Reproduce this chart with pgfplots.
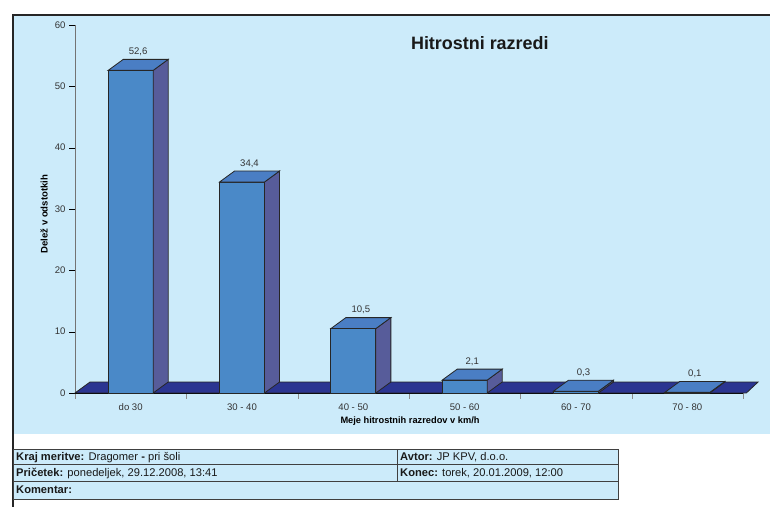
\documentclass[border=0pt]{standalone}
\usepackage{pgfplots}
\pgfplotsset{compat=1.18}
\usepackage{fontspec}
\setmainfont{Liberation Sans}
\definecolor{bg}{HTML}{CCEBFA}
\definecolor{front}{HTML}{4A89C8}
\definecolor{topc}{HTML}{4A7EC4}
\definecolor{side}{HTML}{575C9A}
\definecolor{floorc}{HTML}{2B3591}
\definecolor{txt}{HTML}{333333}
\begin{document}
\begin{tikzpicture}[x=1bp,y=1bp]
\useasboundingbox (0,0) rectangle (770,507);
\fill[bg] (14,73) rectangle (770,491);
\draw[line width=2bp, black!85] (13,0) -- (13,492) -- (770,492);
% info table
\filldraw[fill=bg, draw=black!75, line width=0.9bp] (13,8) rectangle (618,58);
\draw[black!75, line width=0.9bp] (13,43) -- (618,43) (13,26) -- (618,26) (397,26) -- (397,58);
\begin{scope}[every node/.style={anchor=base west, inner sep=0pt, font=\fontsize{11.2}{13}\selectfont, text=black!90}]
\node at (16,46.5) {\textbf{Kraj meritve:} Dragomer \textbf{-} pri šoli};
\node at (400,46.5) {\textbf{Avtor:} JP KPV, d.o.o.};
\node at (16,30.5) {\textbf{Pričetek:} ponedeljek, 29.12.2008, 13:41};
\node at (400,30.5) {\textbf{Konec:} torek, 20.01.2009, 12:00};
\node at (16,13) {\textbf{Komentar:}};
\end{scope}
\begin{axis}[
  at={(75bp,114bp)}, anchor=south west,
  scale only axis, width=668bp, height=368bp,
  xmin=-0.5, xmax=5.5, ymin=0, ymax=60,
  clip=false,
  axis x line=bottom, axis y line=left,
  axis line style={-},
  y axis line style={black!55},
  x axis line style={black},
  ytick={0,10,...,60},
  xtick={0,...,5},
  xticklabels={do 30, 30 - 40, 40 - 50, 50 - 60, 60 - 70, 70 - 80},
  minor xtick={-0.5,0.5,...,5.5},
  tick align=outside,
  major tick length=6bp, minor tick length=6bp,
  major x tick style={draw=none},
  minor x tick style={black!45},
  major y tick style={black},
  tick label style={font=\fontsize{9.6}{11}\selectfont, text=txt},
  xticklabel style={yshift=-1.5bp},
  /pgf/number format/assume math mode=true,
  xlabel={Meje hitrostnih razredov v km/h},
  xlabel style={at={(axis description cs:0.5015,-0.076)}, anchor=center, font=\bfseries\fontsize{9.3}{11}\selectfont, text=black},
  ylabel={Delež v odstotkih},
  ylabel style={at={(axis description cs:-0.0464,0.486)}, anchor=center, font=\bfseries\fontsize{9.6}{11}\selectfont, text=black},
]
% floor
\addplot[fill=floorc, draw=black!85, line width=0.8bp] coordinates {(-0.5,0) (-0.365,1.79) (5.635,1.79) (5.53,0)} -- cycle;
% front faces
\addplot[ybar, bar width=0.404, bar shift=0pt, fill=front, draw=black!85, line width=0.8bp,
  nodes near coords,
  every node near coord/.append style={xshift=7.5bp, yshift=11bp, font=\fontsize{9.6}{11}\selectfont, text=txt,
    /pgf/number format/fixed, /pgf/number format/fixed zerofill, /pgf/number format/precision=1,
    /pgf/number format/use comma, /pgf/number format/assume math mode=true}]
  coordinates {(0,52.6) (1,34.4) (2,10.5) (3,2.1) (4,0.3) (5,0.1)};
% side faces
\addplot[fill=side, draw=black!85, line width=0.8bp] coordinates {(0.202,0) (0.337,1.79) (0.337,54.39) (0.202,52.6)} -- cycle;
\addplot[fill=side, draw=black!85, line width=0.8bp] coordinates {(1.202,0) (1.337,1.79) (1.337,36.19) (1.202,34.4)} -- cycle;
\addplot[fill=side, draw=black!85, line width=0.8bp] coordinates {(2.202,0) (2.337,1.79) (2.337,12.29) (2.202,10.5)} -- cycle;
\addplot[fill=side, draw=black!85, line width=0.8bp] coordinates {(3.202,0) (3.337,1.79) (3.337,3.89) (3.202,2.1)} -- cycle;
\addplot[fill=side, draw=black!85, line width=0.8bp] coordinates {(4.202,0) (4.337,1.79) (4.337,2.09) (4.202,0.3)} -- cycle;
\addplot[fill=side, draw=black!85, line width=0.8bp] coordinates {(5.202,0) (5.337,1.79) (5.337,1.89) (5.202,0.1)} -- cycle;
% top faces
\addplot[fill=topc, draw=black!85, line width=0.8bp] coordinates {(-0.202,52.6) (-0.067,54.39) (0.337,54.39) (0.202,52.6)} -- cycle;
\addplot[fill=topc, draw=black!85, line width=0.8bp] coordinates {(0.798,34.4) (0.933,36.19) (1.337,36.19) (1.202,34.4)} -- cycle;
\addplot[fill=topc, draw=black!85, line width=0.8bp] coordinates {(1.798,10.5) (1.933,12.29) (2.337,12.29) (2.202,10.5)} -- cycle;
\addplot[fill=topc, draw=black!85, line width=0.8bp] coordinates {(2.798,2.1) (2.933,3.89) (3.337,3.89) (3.202,2.1)} -- cycle;
\addplot[fill=topc, draw=black!85, line width=0.8bp] coordinates {(3.798,0.3) (3.933,2.09) (4.337,2.09) (4.202,0.3)} -- cycle;
\addplot[fill=topc, draw=black!85, line width=0.8bp] coordinates {(4.798,0.1) (4.933,1.89) (5.337,1.89) (5.202,0.1)} -- cycle;
\node[font=\bfseries\fontsize{18}{21}\selectfont, text=black!90] at (axis description cs:0.606,0.951) {Hitrostni razredi};
\end{axis}
\end{tikzpicture}
\end{document}
